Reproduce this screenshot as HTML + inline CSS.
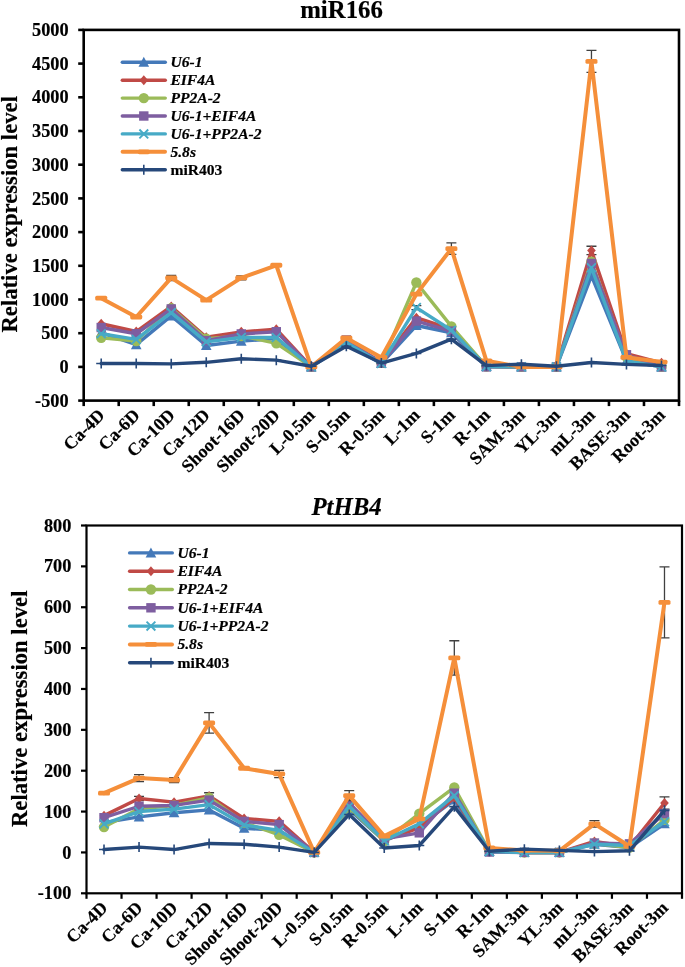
<!DOCTYPE html>
<html><head><meta charset="utf-8"><style>
html,body{margin:0;padding:0;background:#fff;}
svg{display:block;will-change:transform;}
text{font-family:'Liberation Serif', serif;fill:#000;stroke:#000;stroke-width:0.18px;}
</style></head><body>
<svg width="685" height="967" viewBox="0 0 685 967">
<rect width="685" height="967" fill="#fff"/>
<rect x="83.70" y="29.90" width="595.30" height="370.70" fill="none" stroke="#000" stroke-width="2.6"/>
<line x1="78.20" y1="400.60" x2="83.70" y2="400.60" stroke="#000" stroke-width="2.6"/>
<text x="68.60" y="406.70" text-anchor="end" font-size="18.3" font-weight="bold">-500</text>
<line x1="78.20" y1="366.90" x2="83.70" y2="366.90" stroke="#000" stroke-width="2.6"/>
<text x="68.60" y="373.00" text-anchor="end" font-size="18.3" font-weight="bold">0</text>
<line x1="78.20" y1="333.20" x2="83.70" y2="333.20" stroke="#000" stroke-width="2.6"/>
<text x="68.60" y="339.30" text-anchor="end" font-size="18.3" font-weight="bold">500</text>
<line x1="78.20" y1="299.50" x2="83.70" y2="299.50" stroke="#000" stroke-width="2.6"/>
<text x="68.60" y="305.60" text-anchor="end" font-size="18.3" font-weight="bold">1000</text>
<line x1="78.20" y1="265.80" x2="83.70" y2="265.80" stroke="#000" stroke-width="2.6"/>
<text x="68.60" y="271.90" text-anchor="end" font-size="18.3" font-weight="bold">1500</text>
<line x1="78.20" y1="232.10" x2="83.70" y2="232.10" stroke="#000" stroke-width="2.6"/>
<text x="68.60" y="238.20" text-anchor="end" font-size="18.3" font-weight="bold">2000</text>
<line x1="78.20" y1="198.40" x2="83.70" y2="198.40" stroke="#000" stroke-width="2.6"/>
<text x="68.60" y="204.50" text-anchor="end" font-size="18.3" font-weight="bold">2500</text>
<line x1="78.20" y1="164.70" x2="83.70" y2="164.70" stroke="#000" stroke-width="2.6"/>
<text x="68.60" y="170.80" text-anchor="end" font-size="18.3" font-weight="bold">3000</text>
<line x1="78.20" y1="131.00" x2="83.70" y2="131.00" stroke="#000" stroke-width="2.6"/>
<text x="68.60" y="137.10" text-anchor="end" font-size="18.3" font-weight="bold">3500</text>
<line x1="78.20" y1="97.30" x2="83.70" y2="97.30" stroke="#000" stroke-width="2.6"/>
<text x="68.60" y="103.40" text-anchor="end" font-size="18.3" font-weight="bold">4000</text>
<line x1="78.20" y1="63.60" x2="83.70" y2="63.60" stroke="#000" stroke-width="2.6"/>
<text x="68.60" y="69.70" text-anchor="end" font-size="18.3" font-weight="bold">4500</text>
<line x1="78.20" y1="29.90" x2="83.70" y2="29.90" stroke="#000" stroke-width="2.6"/>
<text x="68.60" y="36.00" text-anchor="end" font-size="18.3" font-weight="bold">5000</text>
<line x1="83.70" y1="400.60" x2="83.70" y2="406.10" stroke="#000" stroke-width="2.6"/>
<line x1="118.72" y1="400.60" x2="118.72" y2="406.10" stroke="#000" stroke-width="2.6"/>
<line x1="153.74" y1="400.60" x2="153.74" y2="406.10" stroke="#000" stroke-width="2.6"/>
<line x1="188.75" y1="400.60" x2="188.75" y2="406.10" stroke="#000" stroke-width="2.6"/>
<line x1="223.77" y1="400.60" x2="223.77" y2="406.10" stroke="#000" stroke-width="2.6"/>
<line x1="258.79" y1="400.60" x2="258.79" y2="406.10" stroke="#000" stroke-width="2.6"/>
<line x1="293.81" y1="400.60" x2="293.81" y2="406.10" stroke="#000" stroke-width="2.6"/>
<line x1="328.82" y1="400.60" x2="328.82" y2="406.10" stroke="#000" stroke-width="2.6"/>
<line x1="363.84" y1="400.60" x2="363.84" y2="406.10" stroke="#000" stroke-width="2.6"/>
<line x1="398.86" y1="400.60" x2="398.86" y2="406.10" stroke="#000" stroke-width="2.6"/>
<line x1="433.88" y1="400.60" x2="433.88" y2="406.10" stroke="#000" stroke-width="2.6"/>
<line x1="468.89" y1="400.60" x2="468.89" y2="406.10" stroke="#000" stroke-width="2.6"/>
<line x1="503.91" y1="400.60" x2="503.91" y2="406.10" stroke="#000" stroke-width="2.6"/>
<line x1="538.93" y1="400.60" x2="538.93" y2="406.10" stroke="#000" stroke-width="2.6"/>
<line x1="573.95" y1="400.60" x2="573.95" y2="406.10" stroke="#000" stroke-width="2.6"/>
<line x1="608.96" y1="400.60" x2="608.96" y2="406.10" stroke="#000" stroke-width="2.6"/>
<line x1="643.98" y1="400.60" x2="643.98" y2="406.10" stroke="#000" stroke-width="2.6"/>
<line x1="679.00" y1="400.60" x2="679.00" y2="406.10" stroke="#000" stroke-width="2.6"/>
<text transform="translate(105.81,416.20) rotate(-45)" text-anchor="end" font-size="18.0" font-weight="bold">Ca-4D</text>
<text transform="translate(140.83,416.20) rotate(-45)" text-anchor="end" font-size="18.0" font-weight="bold">Ca-6D</text>
<text transform="translate(175.84,416.20) rotate(-45)" text-anchor="end" font-size="18.0" font-weight="bold">Ca-10D</text>
<text transform="translate(210.86,416.20) rotate(-45)" text-anchor="end" font-size="18.0" font-weight="bold">Ca-12D</text>
<text transform="translate(245.88,416.20) rotate(-45)" text-anchor="end" font-size="18.0" font-weight="bold">Shoot-16D</text>
<text transform="translate(280.90,416.20) rotate(-45)" text-anchor="end" font-size="18.0" font-weight="bold">Shoot-20D</text>
<text transform="translate(315.91,416.20) rotate(-45)" text-anchor="end" font-size="18.0" font-weight="bold">L-0.5m</text>
<text transform="translate(350.93,416.20) rotate(-45)" text-anchor="end" font-size="18.0" font-weight="bold">S-0.5m</text>
<text transform="translate(385.95,416.20) rotate(-45)" text-anchor="end" font-size="18.0" font-weight="bold">R-0.5m</text>
<text transform="translate(420.97,416.20) rotate(-45)" text-anchor="end" font-size="18.0" font-weight="bold">L-1m</text>
<text transform="translate(455.99,416.20) rotate(-45)" text-anchor="end" font-size="18.0" font-weight="bold">S-1m</text>
<text transform="translate(491.00,416.20) rotate(-45)" text-anchor="end" font-size="18.0" font-weight="bold">R-1m</text>
<text transform="translate(526.02,416.20) rotate(-45)" text-anchor="end" font-size="18.0" font-weight="bold">SAM-3m</text>
<text transform="translate(561.04,416.20) rotate(-45)" text-anchor="end" font-size="18.0" font-weight="bold">YL-3m</text>
<text transform="translate(596.06,416.20) rotate(-45)" text-anchor="end" font-size="18.0" font-weight="bold">mL-3m</text>
<text transform="translate(631.07,416.20) rotate(-45)" text-anchor="end" font-size="18.0" font-weight="bold">BASE-3m</text>
<text transform="translate(666.09,416.20) rotate(-45)" text-anchor="end" font-size="18.0" font-weight="bold">Root-3m</text>
<polyline points="101.21,332.53 136.23,344.66 171.24,315.88 206.26,345.53 241.28,341.15 276.30,338.59 311.31,366.90 346.33,343.98 381.35,363.53 416.37,325.52 451.39,332.73 486.40,366.56 521.42,366.90 556.44,366.90 591.46,275.91 626.47,360.83 661.49,366.90" fill="none" stroke="#4479B9" stroke-width="3.4" stroke-linejoin="round" stroke-linecap="round"/>
<path d="M101.21,327.03 L106.51,337.03 L95.91,337.03 Z" fill="#4479B9"/>
<path d="M136.23,339.16 L141.53,349.16 L130.93,349.16 Z" fill="#4479B9"/>
<path d="M171.24,310.38 L176.54,320.38 L165.94,320.38 Z" fill="#4479B9"/>
<path d="M206.26,340.03 L211.56,350.03 L200.96,350.03 Z" fill="#4479B9"/>
<path d="M241.28,335.65 L246.58,345.65 L235.98,345.65 Z" fill="#4479B9"/>
<path d="M276.30,333.09 L281.60,343.09 L271.00,343.09 Z" fill="#4479B9"/>
<path d="M311.31,361.40 L316.61,371.40 L306.01,371.40 Z" fill="#4479B9"/>
<path d="M346.33,338.48 L351.63,348.48 L341.03,348.48 Z" fill="#4479B9"/>
<path d="M381.35,358.03 L386.65,368.03 L376.05,368.03 Z" fill="#4479B9"/>
<path d="M416.37,320.02 L421.67,330.02 L411.07,330.02 Z" fill="#4479B9"/>
<path d="M451.39,327.23 L456.69,337.23 L446.09,337.23 Z" fill="#4479B9"/>
<path d="M486.40,361.06 L491.70,371.06 L481.10,371.06 Z" fill="#4479B9"/>
<path d="M521.42,361.40 L526.72,371.40 L516.12,371.40 Z" fill="#4479B9"/>
<path d="M556.44,361.40 L561.74,371.40 L551.14,371.40 Z" fill="#4479B9"/>
<path d="M591.46,270.41 L596.76,280.41 L586.16,280.41 Z" fill="#4479B9"/>
<path d="M626.47,355.33 L631.77,365.33 L621.17,365.33 Z" fill="#4479B9"/>
<path d="M661.49,361.40 L666.79,371.40 L656.19,371.40 Z" fill="#4479B9"/>
<path d="M591.46,246.25 L591.46,254.61 M586.46,246.25 L596.46,246.25 M586.46,254.61 L596.46,254.61" stroke="#404040" stroke-width="1.3" fill="none"/>
<polyline points="101.21,323.76 136.23,331.51 171.24,306.44 206.26,337.24 241.28,331.85 276.30,329.16 311.31,366.90 346.33,341.29 381.35,362.18 416.37,317.70 451.39,329.16 486.40,366.23 521.42,366.90 556.44,366.90 591.46,250.43 626.47,353.76 661.49,362.86" fill="none" stroke="#C04A46" stroke-width="3.4" stroke-linejoin="round" stroke-linecap="round"/>
<path d="M101.21,318.76 L105.51,323.76 L101.21,328.76 L96.91,323.76 Z" fill="#C04A46"/>
<path d="M136.23,326.51 L140.53,331.51 L136.23,336.51 L131.93,331.51 Z" fill="#C04A46"/>
<path d="M171.24,301.44 L175.54,306.44 L171.24,311.44 L166.94,306.44 Z" fill="#C04A46"/>
<path d="M206.26,332.24 L210.56,337.24 L206.26,342.24 L201.96,337.24 Z" fill="#C04A46"/>
<path d="M241.28,326.85 L245.58,331.85 L241.28,336.85 L236.98,331.85 Z" fill="#C04A46"/>
<path d="M276.30,324.16 L280.60,329.16 L276.30,334.16 L272.00,329.16 Z" fill="#C04A46"/>
<path d="M311.31,361.90 L315.61,366.90 L311.31,371.90 L307.01,366.90 Z" fill="#C04A46"/>
<path d="M346.33,336.29 L350.63,341.29 L346.33,346.29 L342.03,341.29 Z" fill="#C04A46"/>
<path d="M381.35,357.18 L385.65,362.18 L381.35,367.18 L377.05,362.18 Z" fill="#C04A46"/>
<path d="M416.37,312.70 L420.67,317.70 L416.37,322.70 L412.07,317.70 Z" fill="#C04A46"/>
<path d="M451.39,324.16 L455.69,329.16 L451.39,334.16 L447.09,329.16 Z" fill="#C04A46"/>
<path d="M486.40,361.23 L490.70,366.23 L486.40,371.23 L482.10,366.23 Z" fill="#C04A46"/>
<path d="M521.42,361.90 L525.72,366.90 L521.42,371.90 L517.12,366.90 Z" fill="#C04A46"/>
<path d="M556.44,361.90 L560.74,366.90 L556.44,371.90 L552.14,366.90 Z" fill="#C04A46"/>
<path d="M591.46,245.43 L595.76,250.43 L591.46,255.43 L587.16,250.43 Z" fill="#C04A46"/>
<path d="M626.47,348.76 L630.77,353.76 L626.47,358.76 L622.17,353.76 Z" fill="#C04A46"/>
<path d="M661.49,357.86 L665.79,362.86 L661.49,367.86 L657.19,362.86 Z" fill="#C04A46"/>
<polyline points="101.21,337.85 136.23,340.95 171.24,308.26 206.26,338.59 241.28,335.96 276.30,343.31 311.31,366.90 346.33,341.96 381.35,362.86 416.37,282.45 451.39,326.33 486.40,366.56 521.42,366.90 556.44,366.90 591.46,261.76 626.47,356.79 661.49,366.90" fill="none" stroke="#9BBB59" stroke-width="3.4" stroke-linejoin="round" stroke-linecap="round"/>
<circle cx="101.21" cy="337.85" r="5.2" fill="#9BBB59"/>
<circle cx="136.23" cy="340.95" r="5.2" fill="#9BBB59"/>
<circle cx="171.24" cy="308.26" r="5.2" fill="#9BBB59"/>
<circle cx="206.26" cy="338.59" r="5.2" fill="#9BBB59"/>
<circle cx="241.28" cy="335.96" r="5.2" fill="#9BBB59"/>
<circle cx="276.30" cy="343.31" r="5.2" fill="#9BBB59"/>
<circle cx="311.31" cy="366.90" r="5.2" fill="#9BBB59"/>
<circle cx="346.33" cy="341.96" r="5.2" fill="#9BBB59"/>
<circle cx="381.35" cy="362.86" r="5.2" fill="#9BBB59"/>
<circle cx="416.37" cy="282.45" r="5.2" fill="#9BBB59"/>
<circle cx="451.39" cy="326.33" r="5.2" fill="#9BBB59"/>
<circle cx="486.40" cy="366.56" r="5.2" fill="#9BBB59"/>
<circle cx="521.42" cy="366.90" r="5.2" fill="#9BBB59"/>
<circle cx="556.44" cy="366.90" r="5.2" fill="#9BBB59"/>
<circle cx="591.46" cy="261.76" r="5.2" fill="#9BBB59"/>
<circle cx="626.47" cy="356.79" r="5.2" fill="#9BBB59"/>
<circle cx="661.49" cy="366.90" r="5.2" fill="#9BBB59"/>
<polyline points="101.21,327.54 136.23,333.74 171.24,308.94 206.26,340.61 241.28,333.94 276.30,331.72 311.31,366.90 346.33,339.94 381.35,362.86 416.37,321.07 451.39,331.11 486.40,366.90 521.42,366.90 556.44,366.90 591.46,263.44 626.47,354.77 661.49,366.90" fill="none" stroke="#7E5EA0" stroke-width="3.4" stroke-linejoin="round" stroke-linecap="round"/>
<rect x="96.51" y="322.84" width="9.4" height="9.4" fill="#7E5EA0"/>
<rect x="131.53" y="329.04" width="9.4" height="9.4" fill="#7E5EA0"/>
<rect x="166.54" y="304.24" width="9.4" height="9.4" fill="#7E5EA0"/>
<rect x="201.56" y="335.91" width="9.4" height="9.4" fill="#7E5EA0"/>
<rect x="236.58" y="329.24" width="9.4" height="9.4" fill="#7E5EA0"/>
<rect x="271.60" y="327.02" width="9.4" height="9.4" fill="#7E5EA0"/>
<rect x="306.61" y="362.20" width="9.4" height="9.4" fill="#7E5EA0"/>
<rect x="341.63" y="335.24" width="9.4" height="9.4" fill="#7E5EA0"/>
<rect x="376.65" y="358.16" width="9.4" height="9.4" fill="#7E5EA0"/>
<rect x="411.67" y="316.37" width="9.4" height="9.4" fill="#7E5EA0"/>
<rect x="446.69" y="326.41" width="9.4" height="9.4" fill="#7E5EA0"/>
<rect x="481.70" y="362.20" width="9.4" height="9.4" fill="#7E5EA0"/>
<rect x="516.72" y="362.20" width="9.4" height="9.4" fill="#7E5EA0"/>
<rect x="551.74" y="362.20" width="9.4" height="9.4" fill="#7E5EA0"/>
<rect x="586.76" y="258.74" width="9.4" height="9.4" fill="#7E5EA0"/>
<rect x="621.77" y="350.07" width="9.4" height="9.4" fill="#7E5EA0"/>
<rect x="656.79" y="362.20" width="9.4" height="9.4" fill="#7E5EA0"/>
<path d="M416.37,305.57 L416.37,309.61 M411.37,305.57 L421.37,305.57 M411.37,309.61 L421.37,309.61" stroke="#404040" stroke-width="1.3" fill="none"/>
<polyline points="101.21,333.74 136.23,339.40 171.24,312.64 206.26,341.83 241.28,337.51 276.30,337.51 311.31,366.90 346.33,342.50 381.35,363.53 416.37,307.59 451.39,330.30 486.40,366.56 521.42,366.90 556.44,366.90 591.46,267.75 626.47,360.90 661.49,366.90" fill="none" stroke="#47AAC6" stroke-width="3.4" stroke-linejoin="round" stroke-linecap="round"/>
<path d="M96.81,329.34 L105.61,338.14 M105.61,329.34 L96.81,338.14" stroke="#47AAC6" stroke-width="1.9" fill="none"/>
<path d="M131.83,335.00 L140.63,343.80 M140.63,335.00 L131.83,343.80" stroke="#47AAC6" stroke-width="1.9" fill="none"/>
<path d="M166.84,308.24 L175.64,317.04 M175.64,308.24 L166.84,317.04" stroke="#47AAC6" stroke-width="1.9" fill="none"/>
<path d="M201.86,337.43 L210.66,346.23 M210.66,337.43 L201.86,346.23" stroke="#47AAC6" stroke-width="1.9" fill="none"/>
<path d="M236.88,333.11 L245.68,341.91 M245.68,333.11 L236.88,341.91" stroke="#47AAC6" stroke-width="1.9" fill="none"/>
<path d="M271.90,333.11 L280.70,341.91 M280.70,333.11 L271.90,341.91" stroke="#47AAC6" stroke-width="1.9" fill="none"/>
<path d="M306.91,362.50 L315.71,371.30 M315.71,362.50 L306.91,371.30" stroke="#47AAC6" stroke-width="1.9" fill="none"/>
<path d="M341.93,338.10 L350.73,346.90 M350.73,338.10 L341.93,346.90" stroke="#47AAC6" stroke-width="1.9" fill="none"/>
<path d="M376.95,359.13 L385.75,367.93 M385.75,359.13 L376.95,367.93" stroke="#47AAC6" stroke-width="1.9" fill="none"/>
<path d="M411.97,303.19 L420.77,311.99 M420.77,303.19 L411.97,311.99" stroke="#47AAC6" stroke-width="1.9" fill="none"/>
<path d="M446.99,325.90 L455.79,334.70 M455.79,325.90 L446.99,334.70" stroke="#47AAC6" stroke-width="1.9" fill="none"/>
<path d="M482.00,362.16 L490.80,370.96 M490.80,362.16 L482.00,370.96" stroke="#47AAC6" stroke-width="1.9" fill="none"/>
<path d="M517.02,362.50 L525.82,371.30 M525.82,362.50 L517.02,371.30" stroke="#47AAC6" stroke-width="1.9" fill="none"/>
<path d="M552.04,362.50 L560.84,371.30 M560.84,362.50 L552.04,371.30" stroke="#47AAC6" stroke-width="1.9" fill="none"/>
<path d="M587.06,263.35 L595.86,272.15 M595.86,263.35 L587.06,272.15" stroke="#47AAC6" stroke-width="1.9" fill="none"/>
<path d="M622.07,356.50 L630.87,365.30 M630.87,356.50 L622.07,365.30" stroke="#47AAC6" stroke-width="1.9" fill="none"/>
<path d="M657.09,362.50 L665.89,371.30 M665.89,362.50 L657.09,371.30" stroke="#47AAC6" stroke-width="1.9" fill="none"/>
<path d="M171.24,275.37 L171.24,280.49 M166.24,275.37 L176.24,275.37 M166.24,280.49 L176.24,280.49" stroke="#404040" stroke-width="1.3" fill="none"/>
<path d="M241.28,275.91 L241.28,279.95 M236.28,275.91 L246.28,275.91 M236.28,279.95 L246.28,279.95" stroke="#404040" stroke-width="1.3" fill="none"/>
<path d="M451.39,242.82 L451.39,254.41 M446.39,242.82 L456.39,242.82 M446.39,254.41 L456.39,254.41" stroke="#404040" stroke-width="1.3" fill="none"/>
<path d="M591.46,50.39 L591.46,72.36 M586.46,50.39 L596.46,50.39 M586.46,72.36 L596.46,72.36" stroke="#404040" stroke-width="1.3" fill="none"/>
<polyline points="101.21,298.15 136.23,317.02 171.24,277.93 206.26,300.17 241.28,277.93 276.30,265.26 311.31,366.90 346.33,337.92 381.35,357.46 416.37,294.11 451.39,248.61 486.40,360.83 521.42,366.90 556.44,366.90 591.46,61.38 626.47,357.33 661.49,362.05" fill="none" stroke="#F58F3A" stroke-width="4.0" stroke-linejoin="round" stroke-linecap="round"/>
<rect x="95.21" y="295.75" width="12" height="4.8" rx="1.6" fill="#F58F3A"/>
<rect x="130.23" y="314.62" width="12" height="4.8" rx="1.6" fill="#F58F3A"/>
<rect x="165.24" y="275.53" width="12" height="4.8" rx="1.6" fill="#F58F3A"/>
<rect x="200.26" y="297.77" width="12" height="4.8" rx="1.6" fill="#F58F3A"/>
<rect x="235.28" y="275.53" width="12" height="4.8" rx="1.6" fill="#F58F3A"/>
<rect x="270.30" y="262.86" width="12" height="4.8" rx="1.6" fill="#F58F3A"/>
<rect x="305.31" y="364.50" width="12" height="4.8" rx="1.6" fill="#F58F3A"/>
<rect x="340.33" y="335.52" width="12" height="4.8" rx="1.6" fill="#F58F3A"/>
<rect x="375.35" y="355.06" width="12" height="4.8" rx="1.6" fill="#F58F3A"/>
<rect x="410.37" y="291.71" width="12" height="4.8" rx="1.6" fill="#F58F3A"/>
<rect x="445.39" y="246.21" width="12" height="4.8" rx="1.6" fill="#F58F3A"/>
<rect x="480.40" y="358.43" width="12" height="4.8" rx="1.6" fill="#F58F3A"/>
<rect x="515.42" y="364.50" width="12" height="4.8" rx="1.6" fill="#F58F3A"/>
<rect x="550.44" y="364.50" width="12" height="4.8" rx="1.6" fill="#F58F3A"/>
<rect x="585.46" y="58.98" width="12" height="4.8" rx="1.6" fill="#F58F3A"/>
<rect x="620.47" y="354.93" width="12" height="4.8" rx="1.6" fill="#F58F3A"/>
<rect x="655.49" y="359.65" width="12" height="4.8" rx="1.6" fill="#F58F3A"/>
<polyline points="101.21,363.53 136.23,363.53 171.24,363.87 206.26,362.32 241.28,358.74 276.30,360.16 311.31,366.23 346.33,346.34 381.35,363.06 416.37,353.42 451.39,339.13 486.40,365.62 521.42,364.20 556.44,366.23 591.46,362.52 626.47,364.41 661.49,365.55" fill="none" stroke="#26487A" stroke-width="3.4" stroke-linejoin="round" stroke-linecap="round"/>
<path d="M101.21,358.53 L101.21,368.53 M96.21,363.53 L106.21,363.53" stroke="#26487A" stroke-width="1.6" fill="none"/>
<path d="M136.23,358.53 L136.23,368.53 M131.23,363.53 L141.23,363.53" stroke="#26487A" stroke-width="1.6" fill="none"/>
<path d="M171.24,358.87 L171.24,368.87 M166.24,363.87 L176.24,363.87" stroke="#26487A" stroke-width="1.6" fill="none"/>
<path d="M206.26,357.32 L206.26,367.32 M201.26,362.32 L211.26,362.32" stroke="#26487A" stroke-width="1.6" fill="none"/>
<path d="M241.28,353.74 L241.28,363.74 M236.28,358.74 L246.28,358.74" stroke="#26487A" stroke-width="1.6" fill="none"/>
<path d="M276.30,355.16 L276.30,365.16 M271.30,360.16 L281.30,360.16" stroke="#26487A" stroke-width="1.6" fill="none"/>
<path d="M311.31,361.23 L311.31,371.23 M306.31,366.23 L316.31,366.23" stroke="#26487A" stroke-width="1.6" fill="none"/>
<path d="M346.33,341.34 L346.33,351.34 M341.33,346.34 L351.33,346.34" stroke="#26487A" stroke-width="1.6" fill="none"/>
<path d="M381.35,358.06 L381.35,368.06 M376.35,363.06 L386.35,363.06" stroke="#26487A" stroke-width="1.6" fill="none"/>
<path d="M416.37,348.42 L416.37,358.42 M411.37,353.42 L421.37,353.42" stroke="#26487A" stroke-width="1.6" fill="none"/>
<path d="M451.39,334.13 L451.39,344.13 M446.39,339.13 L456.39,339.13" stroke="#26487A" stroke-width="1.6" fill="none"/>
<path d="M486.40,360.62 L486.40,370.62 M481.40,365.62 L491.40,365.62" stroke="#26487A" stroke-width="1.6" fill="none"/>
<path d="M521.42,359.20 L521.42,369.20 M516.42,364.20 L526.42,364.20" stroke="#26487A" stroke-width="1.6" fill="none"/>
<path d="M556.44,361.23 L556.44,371.23 M551.44,366.23 L561.44,366.23" stroke="#26487A" stroke-width="1.6" fill="none"/>
<path d="M591.46,357.52 L591.46,367.52 M586.46,362.52 L596.46,362.52" stroke="#26487A" stroke-width="1.6" fill="none"/>
<path d="M626.47,359.41 L626.47,369.41 M621.47,364.41 L631.47,364.41" stroke="#26487A" stroke-width="1.6" fill="none"/>
<path d="M661.49,360.55 L661.49,370.55 M656.49,365.55 L666.49,365.55" stroke="#26487A" stroke-width="1.6" fill="none"/>
<line x1="122.30" y1="62.30" x2="165.30" y2="62.30" stroke="#4479B9" stroke-width="3.4" stroke-linecap="round"/>
<path d="M143.80,56.80 L149.10,66.80 L138.50,66.80 Z" fill="#4479B9"/>
<text x="170.40" y="67.10" font-size="15.6" font-weight="bold" font-style="italic">U6-1</text>
<line x1="122.30" y1="80.20" x2="165.30" y2="80.20" stroke="#C04A46" stroke-width="3.4" stroke-linecap="round"/>
<path d="M143.80,75.20 L148.10,80.20 L143.80,85.20 L139.50,80.20 Z" fill="#C04A46"/>
<text x="170.40" y="85.00" font-size="15.6" font-weight="bold" font-style="italic">EIF4A</text>
<line x1="122.30" y1="98.10" x2="165.30" y2="98.10" stroke="#9BBB59" stroke-width="3.4" stroke-linecap="round"/>
<circle cx="143.80" cy="98.10" r="5.2" fill="#9BBB59"/>
<text x="170.40" y="102.90" font-size="15.6" font-weight="bold" font-style="italic">PP2A-2</text>
<line x1="122.30" y1="116.00" x2="165.30" y2="116.00" stroke="#7E5EA0" stroke-width="3.4" stroke-linecap="round"/>
<rect x="139.10" y="111.30" width="9.4" height="9.4" fill="#7E5EA0"/>
<text x="170.40" y="120.80" font-size="15.6" font-weight="bold" font-style="italic">U6-1+EIF4A</text>
<line x1="122.30" y1="133.90" x2="165.30" y2="133.90" stroke="#47AAC6" stroke-width="3.4" stroke-linecap="round"/>
<path d="M139.40,129.50 L148.20,138.30 M148.20,129.50 L139.40,138.30" stroke="#47AAC6" stroke-width="1.9" fill="none"/>
<text x="170.40" y="138.70" font-size="15.6" font-weight="bold" font-style="italic">U6-1+PP2A-2</text>
<line x1="122.60" y1="151.80" x2="165.00" y2="151.80" stroke="#F58F3A" stroke-width="4.0" stroke-linecap="round"/>
<rect x="137.80" y="149.40" width="12" height="4.8" rx="1.6" fill="#F58F3A"/>
<text x="170.40" y="156.60" font-size="15.6" font-weight="bold" font-style="italic">5.8s</text>
<line x1="122.30" y1="169.70" x2="165.30" y2="169.70" stroke="#26487A" stroke-width="3.4" stroke-linecap="round"/>
<path d="M143.80,164.70 L143.80,174.70 M138.80,169.70 L148.80,169.70" stroke="#26487A" stroke-width="1.6" fill="none"/>
<text x="170.40" y="174.50" font-size="15.6" font-weight="bold">miR403</text>
<text x="300.20" y="18.40" font-size="24.8" font-weight="bold">miR166</text>
<text transform="translate(17.00,214.30) rotate(-90)" text-anchor="middle" font-size="22.7" font-weight="bold">Relative expression level</text>
<rect x="86.50" y="525.50" width="595.50" height="367.80" fill="none" stroke="#000" stroke-width="2.2"/>
<line x1="81.00" y1="893.30" x2="86.50" y2="893.30" stroke="#000" stroke-width="2.2"/>
<text x="71.30" y="899.40" text-anchor="end" font-size="18.3" font-weight="bold">-100</text>
<line x1="81.00" y1="852.43" x2="86.50" y2="852.43" stroke="#000" stroke-width="2.2"/>
<text x="71.30" y="858.53" text-anchor="end" font-size="18.3" font-weight="bold">0</text>
<line x1="81.00" y1="811.57" x2="86.50" y2="811.57" stroke="#000" stroke-width="2.2"/>
<text x="71.30" y="817.67" text-anchor="end" font-size="18.3" font-weight="bold">100</text>
<line x1="81.00" y1="770.70" x2="86.50" y2="770.70" stroke="#000" stroke-width="2.2"/>
<text x="71.30" y="776.80" text-anchor="end" font-size="18.3" font-weight="bold">200</text>
<line x1="81.00" y1="729.83" x2="86.50" y2="729.83" stroke="#000" stroke-width="2.2"/>
<text x="71.30" y="735.93" text-anchor="end" font-size="18.3" font-weight="bold">300</text>
<line x1="81.00" y1="688.97" x2="86.50" y2="688.97" stroke="#000" stroke-width="2.2"/>
<text x="71.30" y="695.07" text-anchor="end" font-size="18.3" font-weight="bold">400</text>
<line x1="81.00" y1="648.10" x2="86.50" y2="648.10" stroke="#000" stroke-width="2.2"/>
<text x="71.30" y="654.20" text-anchor="end" font-size="18.3" font-weight="bold">500</text>
<line x1="81.00" y1="607.23" x2="86.50" y2="607.23" stroke="#000" stroke-width="2.2"/>
<text x="71.30" y="613.33" text-anchor="end" font-size="18.3" font-weight="bold">600</text>
<line x1="81.00" y1="566.37" x2="86.50" y2="566.37" stroke="#000" stroke-width="2.2"/>
<text x="71.30" y="572.47" text-anchor="end" font-size="18.3" font-weight="bold">700</text>
<line x1="81.00" y1="525.50" x2="86.50" y2="525.50" stroke="#000" stroke-width="2.2"/>
<text x="71.30" y="531.60" text-anchor="end" font-size="18.3" font-weight="bold">800</text>
<line x1="86.50" y1="893.30" x2="86.50" y2="898.80" stroke="#000" stroke-width="2.2"/>
<line x1="121.53" y1="893.30" x2="121.53" y2="898.80" stroke="#000" stroke-width="2.2"/>
<line x1="156.56" y1="893.30" x2="156.56" y2="898.80" stroke="#000" stroke-width="2.2"/>
<line x1="191.59" y1="893.30" x2="191.59" y2="898.80" stroke="#000" stroke-width="2.2"/>
<line x1="226.62" y1="893.30" x2="226.62" y2="898.80" stroke="#000" stroke-width="2.2"/>
<line x1="261.65" y1="893.30" x2="261.65" y2="898.80" stroke="#000" stroke-width="2.2"/>
<line x1="296.68" y1="893.30" x2="296.68" y2="898.80" stroke="#000" stroke-width="2.2"/>
<line x1="331.71" y1="893.30" x2="331.71" y2="898.80" stroke="#000" stroke-width="2.2"/>
<line x1="366.74" y1="893.30" x2="366.74" y2="898.80" stroke="#000" stroke-width="2.2"/>
<line x1="401.76" y1="893.30" x2="401.76" y2="898.80" stroke="#000" stroke-width="2.2"/>
<line x1="436.79" y1="893.30" x2="436.79" y2="898.80" stroke="#000" stroke-width="2.2"/>
<line x1="471.82" y1="893.30" x2="471.82" y2="898.80" stroke="#000" stroke-width="2.2"/>
<line x1="506.85" y1="893.30" x2="506.85" y2="898.80" stroke="#000" stroke-width="2.2"/>
<line x1="541.88" y1="893.30" x2="541.88" y2="898.80" stroke="#000" stroke-width="2.2"/>
<line x1="576.91" y1="893.30" x2="576.91" y2="898.80" stroke="#000" stroke-width="2.2"/>
<line x1="611.94" y1="893.30" x2="611.94" y2="898.80" stroke="#000" stroke-width="2.2"/>
<line x1="646.97" y1="893.30" x2="646.97" y2="898.80" stroke="#000" stroke-width="2.2"/>
<line x1="682.00" y1="893.30" x2="682.00" y2="898.80" stroke="#000" stroke-width="2.2"/>
<text transform="translate(108.61,908.90) rotate(-45)" text-anchor="end" font-size="18.0" font-weight="bold">Ca-4D</text>
<text transform="translate(143.64,908.90) rotate(-45)" text-anchor="end" font-size="18.0" font-weight="bold">Ca-6D</text>
<text transform="translate(178.67,908.90) rotate(-45)" text-anchor="end" font-size="18.0" font-weight="bold">Ca-10D</text>
<text transform="translate(213.70,908.90) rotate(-45)" text-anchor="end" font-size="18.0" font-weight="bold">Ca-12D</text>
<text transform="translate(248.73,908.90) rotate(-45)" text-anchor="end" font-size="18.0" font-weight="bold">Shoot-16D</text>
<text transform="translate(283.76,908.90) rotate(-45)" text-anchor="end" font-size="18.0" font-weight="bold">Shoot-20D</text>
<text transform="translate(318.79,908.90) rotate(-45)" text-anchor="end" font-size="18.0" font-weight="bold">L-0.5m</text>
<text transform="translate(353.82,908.90) rotate(-45)" text-anchor="end" font-size="18.0" font-weight="bold">S-0.5m</text>
<text transform="translate(388.85,908.90) rotate(-45)" text-anchor="end" font-size="18.0" font-weight="bold">R-0.5m</text>
<text transform="translate(423.88,908.90) rotate(-45)" text-anchor="end" font-size="18.0" font-weight="bold">L-1m</text>
<text transform="translate(458.91,908.90) rotate(-45)" text-anchor="end" font-size="18.0" font-weight="bold">S-1m</text>
<text transform="translate(493.94,908.90) rotate(-45)" text-anchor="end" font-size="18.0" font-weight="bold">R-1m</text>
<text transform="translate(528.97,908.90) rotate(-45)" text-anchor="end" font-size="18.0" font-weight="bold">SAM-3m</text>
<text transform="translate(564.00,908.90) rotate(-45)" text-anchor="end" font-size="18.0" font-weight="bold">YL-3m</text>
<text transform="translate(599.03,908.90) rotate(-45)" text-anchor="end" font-size="18.0" font-weight="bold">mL-3m</text>
<text transform="translate(634.06,908.90) rotate(-45)" text-anchor="end" font-size="18.0" font-weight="bold">BASE-3m</text>
<text transform="translate(669.09,908.90) rotate(-45)" text-anchor="end" font-size="18.0" font-weight="bold">Root-3m</text>
<polyline points="104.01,822.60 139.04,816.88 174.07,812.79 209.10,809.93 244.13,828.32 279.16,830.37 314.19,852.43 349.22,809.52 384.25,840.99 419.28,825.87 454.31,800.12 489.34,851.62 524.37,852.43 559.40,852.43 594.43,844.26 629.46,847.53 664.49,823.83" fill="none" stroke="#4479B9" stroke-width="3.4" stroke-linejoin="round" stroke-linecap="round"/>
<path d="M104.01,817.10 L109.31,827.10 L98.71,827.10 Z" fill="#4479B9"/>
<path d="M139.04,811.38 L144.34,821.38 L133.74,821.38 Z" fill="#4479B9"/>
<path d="M174.07,807.29 L179.37,817.29 L168.77,817.29 Z" fill="#4479B9"/>
<path d="M209.10,804.43 L214.40,814.43 L203.80,814.43 Z" fill="#4479B9"/>
<path d="M244.13,822.82 L249.43,832.82 L238.83,832.82 Z" fill="#4479B9"/>
<path d="M279.16,824.87 L284.46,834.87 L273.86,834.87 Z" fill="#4479B9"/>
<path d="M314.19,846.93 L319.49,856.93 L308.89,856.93 Z" fill="#4479B9"/>
<path d="M349.22,804.02 L354.52,814.02 L343.92,814.02 Z" fill="#4479B9"/>
<path d="M384.25,835.49 L389.55,845.49 L378.95,845.49 Z" fill="#4479B9"/>
<path d="M419.28,820.37 L424.58,830.37 L413.98,830.37 Z" fill="#4479B9"/>
<path d="M454.31,794.62 L459.61,804.62 L449.01,804.62 Z" fill="#4479B9"/>
<path d="M489.34,846.12 L494.64,856.12 L484.04,856.12 Z" fill="#4479B9"/>
<path d="M524.37,846.93 L529.67,856.93 L519.07,856.93 Z" fill="#4479B9"/>
<path d="M559.40,846.93 L564.70,856.93 L554.10,856.93 Z" fill="#4479B9"/>
<path d="M594.43,838.76 L599.73,848.76 L589.13,848.76 Z" fill="#4479B9"/>
<path d="M629.46,842.03 L634.76,852.03 L624.16,852.03 Z" fill="#4479B9"/>
<path d="M664.49,818.33 L669.79,828.33 L659.19,828.33 Z" fill="#4479B9"/>
<path d="M139.04,796.45 L139.04,800.53 M134.04,796.45 L144.04,796.45 M134.04,800.53 L144.04,800.53" stroke="#404040" stroke-width="1.3" fill="none"/>
<path d="M209.10,792.77 L209.10,799.31 M204.10,792.77 L214.10,792.77 M204.10,799.31 L214.10,799.31" stroke="#404040" stroke-width="1.3" fill="none"/>
<path d="M664.49,796.85 L664.49,809.11 M659.49,796.85 L669.49,796.85 M659.49,809.11 L669.49,809.11" stroke="#404040" stroke-width="1.3" fill="none"/>
<polyline points="104.01,815.65 139.04,798.49 174.07,802.17 209.10,796.04 244.13,818.51 279.16,821.37 314.19,852.43 349.22,804.62 384.25,840.17 419.28,827.91 454.31,797.67 489.34,851.21 524.37,852.43 559.40,852.43 594.43,841.40 629.46,846.71 664.49,802.98" fill="none" stroke="#C04A46" stroke-width="3.4" stroke-linejoin="round" stroke-linecap="round"/>
<path d="M104.01,810.65 L108.31,815.65 L104.01,820.65 L99.71,815.65 Z" fill="#C04A46"/>
<path d="M139.04,793.49 L143.34,798.49 L139.04,803.49 L134.74,798.49 Z" fill="#C04A46"/>
<path d="M174.07,797.17 L178.37,802.17 L174.07,807.17 L169.77,802.17 Z" fill="#C04A46"/>
<path d="M209.10,791.04 L213.40,796.04 L209.10,801.04 L204.80,796.04 Z" fill="#C04A46"/>
<path d="M244.13,813.51 L248.43,818.51 L244.13,823.51 L239.83,818.51 Z" fill="#C04A46"/>
<path d="M279.16,816.37 L283.46,821.37 L279.16,826.37 L274.86,821.37 Z" fill="#C04A46"/>
<path d="M314.19,847.43 L318.49,852.43 L314.19,857.43 L309.89,852.43 Z" fill="#C04A46"/>
<path d="M349.22,799.62 L353.52,804.62 L349.22,809.62 L344.92,804.62 Z" fill="#C04A46"/>
<path d="M384.25,835.17 L388.55,840.17 L384.25,845.17 L379.95,840.17 Z" fill="#C04A46"/>
<path d="M419.28,822.91 L423.58,827.91 L419.28,832.91 L414.98,827.91 Z" fill="#C04A46"/>
<path d="M454.31,792.67 L458.61,797.67 L454.31,802.67 L450.01,797.67 Z" fill="#C04A46"/>
<path d="M489.34,846.21 L493.64,851.21 L489.34,856.21 L485.04,851.21 Z" fill="#C04A46"/>
<path d="M524.37,847.43 L528.67,852.43 L524.37,857.43 L520.07,852.43 Z" fill="#C04A46"/>
<path d="M559.40,847.43 L563.70,852.43 L559.40,857.43 L555.10,852.43 Z" fill="#C04A46"/>
<path d="M594.43,836.40 L598.73,841.40 L594.43,846.40 L590.13,841.40 Z" fill="#C04A46"/>
<path d="M629.46,841.71 L633.76,846.71 L629.46,851.71 L625.16,846.71 Z" fill="#C04A46"/>
<path d="M664.49,797.98 L668.79,802.98 L664.49,807.98 L660.19,802.98 Z" fill="#C04A46"/>
<polyline points="104.01,827.10 139.04,808.71 174.07,805.44 209.10,797.67 244.13,822.60 279.16,834.86 314.19,852.43 349.22,807.48 384.25,840.99 419.28,813.61 454.31,787.46 489.34,851.21 524.37,852.43 559.40,852.43 594.43,843.44 629.46,847.53 664.49,819.74" fill="none" stroke="#9BBB59" stroke-width="3.4" stroke-linejoin="round" stroke-linecap="round"/>
<circle cx="104.01" cy="827.10" r="5.2" fill="#9BBB59"/>
<circle cx="139.04" cy="808.71" r="5.2" fill="#9BBB59"/>
<circle cx="174.07" cy="805.44" r="5.2" fill="#9BBB59"/>
<circle cx="209.10" cy="797.67" r="5.2" fill="#9BBB59"/>
<circle cx="244.13" cy="822.60" r="5.2" fill="#9BBB59"/>
<circle cx="279.16" cy="834.86" r="5.2" fill="#9BBB59"/>
<circle cx="314.19" cy="852.43" r="5.2" fill="#9BBB59"/>
<circle cx="349.22" cy="807.48" r="5.2" fill="#9BBB59"/>
<circle cx="384.25" cy="840.99" r="5.2" fill="#9BBB59"/>
<circle cx="419.28" cy="813.61" r="5.2" fill="#9BBB59"/>
<circle cx="454.31" cy="787.46" r="5.2" fill="#9BBB59"/>
<circle cx="489.34" cy="851.21" r="5.2" fill="#9BBB59"/>
<circle cx="524.37" cy="852.43" r="5.2" fill="#9BBB59"/>
<circle cx="559.40" cy="852.43" r="5.2" fill="#9BBB59"/>
<circle cx="594.43" cy="843.44" r="5.2" fill="#9BBB59"/>
<circle cx="629.46" cy="847.53" r="5.2" fill="#9BBB59"/>
<circle cx="664.49" cy="819.74" r="5.2" fill="#9BBB59"/>
<polyline points="104.01,817.70 139.04,806.25 174.07,805.44 209.10,800.12 244.13,821.37 279.16,824.64 314.19,852.43 349.22,802.98 384.25,838.95 419.28,832.82 454.31,793.18 489.34,852.02 524.37,852.43 559.40,852.43 594.43,843.03 629.46,843.85 664.49,813.61" fill="none" stroke="#7E5EA0" stroke-width="3.4" stroke-linejoin="round" stroke-linecap="round"/>
<rect x="99.31" y="813.00" width="9.4" height="9.4" fill="#7E5EA0"/>
<rect x="134.34" y="801.55" width="9.4" height="9.4" fill="#7E5EA0"/>
<rect x="169.37" y="800.74" width="9.4" height="9.4" fill="#7E5EA0"/>
<rect x="204.40" y="795.42" width="9.4" height="9.4" fill="#7E5EA0"/>
<rect x="239.43" y="816.67" width="9.4" height="9.4" fill="#7E5EA0"/>
<rect x="274.46" y="819.94" width="9.4" height="9.4" fill="#7E5EA0"/>
<rect x="309.49" y="847.73" width="9.4" height="9.4" fill="#7E5EA0"/>
<rect x="344.52" y="798.28" width="9.4" height="9.4" fill="#7E5EA0"/>
<rect x="379.55" y="834.25" width="9.4" height="9.4" fill="#7E5EA0"/>
<rect x="414.58" y="828.12" width="9.4" height="9.4" fill="#7E5EA0"/>
<rect x="449.61" y="788.48" width="9.4" height="9.4" fill="#7E5EA0"/>
<rect x="484.64" y="847.32" width="9.4" height="9.4" fill="#7E5EA0"/>
<rect x="519.67" y="847.73" width="9.4" height="9.4" fill="#7E5EA0"/>
<rect x="554.70" y="847.73" width="9.4" height="9.4" fill="#7E5EA0"/>
<rect x="589.73" y="838.33" width="9.4" height="9.4" fill="#7E5EA0"/>
<rect x="624.76" y="839.15" width="9.4" height="9.4" fill="#7E5EA0"/>
<rect x="659.79" y="808.91" width="9.4" height="9.4" fill="#7E5EA0"/>
<polyline points="104.01,823.83 139.04,811.57 174.07,809.11 209.10,804.62 244.13,825.05 279.16,830.37 314.19,852.43 349.22,806.25 384.25,840.58 419.28,823.83 454.31,795.63 489.34,851.62 524.37,852.43 559.40,852.43 594.43,844.26 629.46,845.49 664.49,821.78" fill="none" stroke="#47AAC6" stroke-width="3.4" stroke-linejoin="round" stroke-linecap="round"/>
<path d="M99.61,819.43 L108.41,828.23 M108.41,819.43 L99.61,828.23" stroke="#47AAC6" stroke-width="1.9" fill="none"/>
<path d="M134.64,807.17 L143.44,815.97 M143.44,807.17 L134.64,815.97" stroke="#47AAC6" stroke-width="1.9" fill="none"/>
<path d="M169.67,804.71 L178.47,813.51 M178.47,804.71 L169.67,813.51" stroke="#47AAC6" stroke-width="1.9" fill="none"/>
<path d="M204.70,800.22 L213.50,809.02 M213.50,800.22 L204.70,809.02" stroke="#47AAC6" stroke-width="1.9" fill="none"/>
<path d="M239.73,820.65 L248.53,829.45 M248.53,820.65 L239.73,829.45" stroke="#47AAC6" stroke-width="1.9" fill="none"/>
<path d="M274.76,825.97 L283.56,834.77 M283.56,825.97 L274.76,834.77" stroke="#47AAC6" stroke-width="1.9" fill="none"/>
<path d="M309.79,848.03 L318.59,856.83 M318.59,848.03 L309.79,856.83" stroke="#47AAC6" stroke-width="1.9" fill="none"/>
<path d="M344.82,801.85 L353.62,810.65 M353.62,801.85 L344.82,810.65" stroke="#47AAC6" stroke-width="1.9" fill="none"/>
<path d="M379.85,836.18 L388.65,844.98 M388.65,836.18 L379.85,844.98" stroke="#47AAC6" stroke-width="1.9" fill="none"/>
<path d="M414.88,819.43 L423.68,828.23 M423.68,819.43 L414.88,828.23" stroke="#47AAC6" stroke-width="1.9" fill="none"/>
<path d="M449.91,791.23 L458.71,800.03 M458.71,791.23 L449.91,800.03" stroke="#47AAC6" stroke-width="1.9" fill="none"/>
<path d="M484.94,847.22 L493.74,856.02 M493.74,847.22 L484.94,856.02" stroke="#47AAC6" stroke-width="1.9" fill="none"/>
<path d="M519.97,848.03 L528.77,856.83 M528.77,848.03 L519.97,856.83" stroke="#47AAC6" stroke-width="1.9" fill="none"/>
<path d="M555.00,848.03 L563.80,856.83 M563.80,848.03 L555.00,856.83" stroke="#47AAC6" stroke-width="1.9" fill="none"/>
<path d="M590.03,839.86 L598.83,848.66 M598.83,839.86 L590.03,848.66" stroke="#47AAC6" stroke-width="1.9" fill="none"/>
<path d="M625.06,841.09 L633.86,849.89 M633.86,841.09 L625.06,849.89" stroke="#47AAC6" stroke-width="1.9" fill="none"/>
<path d="M660.09,817.38 L668.89,826.18 M668.89,817.38 L660.09,826.18" stroke="#47AAC6" stroke-width="1.9" fill="none"/>
<path d="M139.04,774.58 L139.04,781.53 M134.04,774.58 L144.04,774.58 M134.04,781.53 L144.04,781.53" stroke="#404040" stroke-width="1.3" fill="none"/>
<path d="M174.07,777.65 L174.07,782.55 M169.07,777.65 L179.07,777.65 M169.07,782.55 L179.07,782.55" stroke="#404040" stroke-width="1.3" fill="none"/>
<path d="M209.10,712.67 L209.10,733.10 M204.10,712.67 L214.10,712.67 M204.10,733.10 L214.10,733.10" stroke="#404040" stroke-width="1.3" fill="none"/>
<path d="M279.16,770.29 L279.16,777.65 M274.16,770.29 L284.16,770.29 M274.16,777.65 L284.16,777.65" stroke="#404040" stroke-width="1.3" fill="none"/>
<path d="M349.22,790.72 L349.22,800.53 M344.22,790.72 L354.22,790.72 M344.22,800.53 L354.22,800.53" stroke="#404040" stroke-width="1.3" fill="none"/>
<path d="M454.31,640.74 L454.31,675.07 M449.31,640.74 L459.31,640.74 M449.31,675.07 L459.31,675.07" stroke="#404040" stroke-width="1.3" fill="none"/>
<path d="M594.43,820.56 L594.43,827.10 M589.43,820.56 L599.43,820.56 M589.43,827.10 L599.43,827.10" stroke="#404040" stroke-width="1.3" fill="none"/>
<path d="M664.49,566.78 L664.49,637.88 M659.49,566.78 L669.49,566.78 M659.49,637.88 L669.49,637.88" stroke="#404040" stroke-width="1.3" fill="none"/>
<polyline points="104.01,793.18 139.04,778.06 174.07,780.10 209.10,722.89 244.13,768.25 279.16,773.97 314.19,852.43 349.22,795.63 384.25,836.09 419.28,818.92 454.31,657.91 489.34,847.94 524.37,850.39 559.40,850.80 594.43,823.83 629.46,846.30 664.49,602.33" fill="none" stroke="#F58F3A" stroke-width="4.0" stroke-linejoin="round" stroke-linecap="round"/>
<rect x="98.01" y="790.78" width="12" height="4.8" rx="1.6" fill="#F58F3A"/>
<rect x="133.04" y="775.66" width="12" height="4.8" rx="1.6" fill="#F58F3A"/>
<rect x="168.07" y="777.70" width="12" height="4.8" rx="1.6" fill="#F58F3A"/>
<rect x="203.10" y="720.49" width="12" height="4.8" rx="1.6" fill="#F58F3A"/>
<rect x="238.13" y="765.85" width="12" height="4.8" rx="1.6" fill="#F58F3A"/>
<rect x="273.16" y="771.57" width="12" height="4.8" rx="1.6" fill="#F58F3A"/>
<rect x="308.19" y="850.03" width="12" height="4.8" rx="1.6" fill="#F58F3A"/>
<rect x="343.22" y="793.23" width="12" height="4.8" rx="1.6" fill="#F58F3A"/>
<rect x="378.25" y="833.69" width="12" height="4.8" rx="1.6" fill="#F58F3A"/>
<rect x="413.28" y="816.52" width="12" height="4.8" rx="1.6" fill="#F58F3A"/>
<rect x="448.31" y="655.51" width="12" height="4.8" rx="1.6" fill="#F58F3A"/>
<rect x="483.34" y="845.54" width="12" height="4.8" rx="1.6" fill="#F58F3A"/>
<rect x="518.37" y="847.99" width="12" height="4.8" rx="1.6" fill="#F58F3A"/>
<rect x="553.40" y="848.40" width="12" height="4.8" rx="1.6" fill="#F58F3A"/>
<rect x="588.43" y="821.43" width="12" height="4.8" rx="1.6" fill="#F58F3A"/>
<rect x="623.46" y="843.90" width="12" height="4.8" rx="1.6" fill="#F58F3A"/>
<rect x="658.49" y="599.93" width="12" height="4.8" rx="1.6" fill="#F58F3A"/>
<polyline points="104.01,849.57 139.04,847.12 174.07,849.57 209.10,843.44 244.13,844.26 279.16,847.12 314.19,852.43 349.22,814.43 384.25,847.94 419.28,845.49 454.31,806.66 489.34,851.21 524.37,849.16 559.40,850.39 594.43,851.62 629.46,850.80 664.49,810.34" fill="none" stroke="#26487A" stroke-width="3.4" stroke-linejoin="round" stroke-linecap="round"/>
<path d="M104.01,844.57 L104.01,854.57 M99.01,849.57 L109.01,849.57" stroke="#26487A" stroke-width="1.6" fill="none"/>
<path d="M139.04,842.12 L139.04,852.12 M134.04,847.12 L144.04,847.12" stroke="#26487A" stroke-width="1.6" fill="none"/>
<path d="M174.07,844.57 L174.07,854.57 M169.07,849.57 L179.07,849.57" stroke="#26487A" stroke-width="1.6" fill="none"/>
<path d="M209.10,838.44 L209.10,848.44 M204.10,843.44 L214.10,843.44" stroke="#26487A" stroke-width="1.6" fill="none"/>
<path d="M244.13,839.26 L244.13,849.26 M239.13,844.26 L249.13,844.26" stroke="#26487A" stroke-width="1.6" fill="none"/>
<path d="M279.16,842.12 L279.16,852.12 M274.16,847.12 L284.16,847.12" stroke="#26487A" stroke-width="1.6" fill="none"/>
<path d="M314.19,847.43 L314.19,857.43 M309.19,852.43 L319.19,852.43" stroke="#26487A" stroke-width="1.6" fill="none"/>
<path d="M349.22,809.43 L349.22,819.43 M344.22,814.43 L354.22,814.43" stroke="#26487A" stroke-width="1.6" fill="none"/>
<path d="M384.25,842.94 L384.25,852.94 M379.25,847.94 L389.25,847.94" stroke="#26487A" stroke-width="1.6" fill="none"/>
<path d="M419.28,840.49 L419.28,850.49 M414.28,845.49 L424.28,845.49" stroke="#26487A" stroke-width="1.6" fill="none"/>
<path d="M454.31,801.66 L454.31,811.66 M449.31,806.66 L459.31,806.66" stroke="#26487A" stroke-width="1.6" fill="none"/>
<path d="M489.34,846.21 L489.34,856.21 M484.34,851.21 L494.34,851.21" stroke="#26487A" stroke-width="1.6" fill="none"/>
<path d="M524.37,844.16 L524.37,854.16 M519.37,849.16 L529.37,849.16" stroke="#26487A" stroke-width="1.6" fill="none"/>
<path d="M559.40,845.39 L559.40,855.39 M554.40,850.39 L564.40,850.39" stroke="#26487A" stroke-width="1.6" fill="none"/>
<path d="M594.43,846.62 L594.43,856.62 M589.43,851.62 L599.43,851.62" stroke="#26487A" stroke-width="1.6" fill="none"/>
<path d="M629.46,845.80 L629.46,855.80 M624.46,850.80 L634.46,850.80" stroke="#26487A" stroke-width="1.6" fill="none"/>
<path d="M664.49,805.34 L664.49,815.34 M659.49,810.34 L669.49,810.34" stroke="#26487A" stroke-width="1.6" fill="none"/>
<line x1="129.60" y1="552.90" x2="172.30" y2="552.90" stroke="#4479B9" stroke-width="3.4" stroke-linecap="round"/>
<path d="M150.95,547.40 L156.25,557.40 L145.65,557.40 Z" fill="#4479B9"/>
<text x="177.40" y="557.70" font-size="15.6" font-weight="bold" font-style="italic">U6-1</text>
<line x1="129.60" y1="571.20" x2="172.30" y2="571.20" stroke="#C04A46" stroke-width="3.4" stroke-linecap="round"/>
<path d="M150.95,566.20 L155.25,571.20 L150.95,576.20 L146.65,571.20 Z" fill="#C04A46"/>
<text x="177.40" y="576.00" font-size="15.6" font-weight="bold" font-style="italic">EIF4A</text>
<line x1="129.60" y1="589.50" x2="172.30" y2="589.50" stroke="#9BBB59" stroke-width="3.4" stroke-linecap="round"/>
<circle cx="150.95" cy="589.50" r="5.2" fill="#9BBB59"/>
<text x="177.40" y="594.30" font-size="15.6" font-weight="bold" font-style="italic">PP2A-2</text>
<line x1="129.60" y1="607.80" x2="172.30" y2="607.80" stroke="#7E5EA0" stroke-width="3.4" stroke-linecap="round"/>
<rect x="146.25" y="603.10" width="9.4" height="9.4" fill="#7E5EA0"/>
<text x="177.40" y="612.60" font-size="15.6" font-weight="bold" font-style="italic">U6-1+EIF4A</text>
<line x1="129.60" y1="626.10" x2="172.30" y2="626.10" stroke="#47AAC6" stroke-width="3.4" stroke-linecap="round"/>
<path d="M146.55,621.70 L155.35,630.50 M155.35,621.70 L146.55,630.50" stroke="#47AAC6" stroke-width="1.9" fill="none"/>
<text x="177.40" y="630.90" font-size="15.6" font-weight="bold" font-style="italic">U6-1+PP2A-2</text>
<line x1="129.90" y1="644.40" x2="172.00" y2="644.40" stroke="#F58F3A" stroke-width="4.0" stroke-linecap="round"/>
<rect x="144.95" y="642.00" width="12" height="4.8" rx="1.6" fill="#F58F3A"/>
<text x="177.40" y="649.20" font-size="15.6" font-weight="bold" font-style="italic">5.8s</text>
<line x1="129.60" y1="662.70" x2="172.30" y2="662.70" stroke="#26487A" stroke-width="3.4" stroke-linecap="round"/>
<path d="M150.95,657.70 L150.95,667.70 M145.95,662.70 L155.95,662.70" stroke="#26487A" stroke-width="1.6" fill="none"/>
<text x="177.40" y="667.50" font-size="15.6" font-weight="bold">miR403</text>
<text x="311.40" y="514.50" font-size="24.8" font-weight="bold" font-style="italic">PtHB4</text>
<text transform="translate(27.30,708.80) rotate(-90)" text-anchor="middle" font-size="22.7" font-weight="bold">Relative expression level</text>
</svg>
</body></html>
